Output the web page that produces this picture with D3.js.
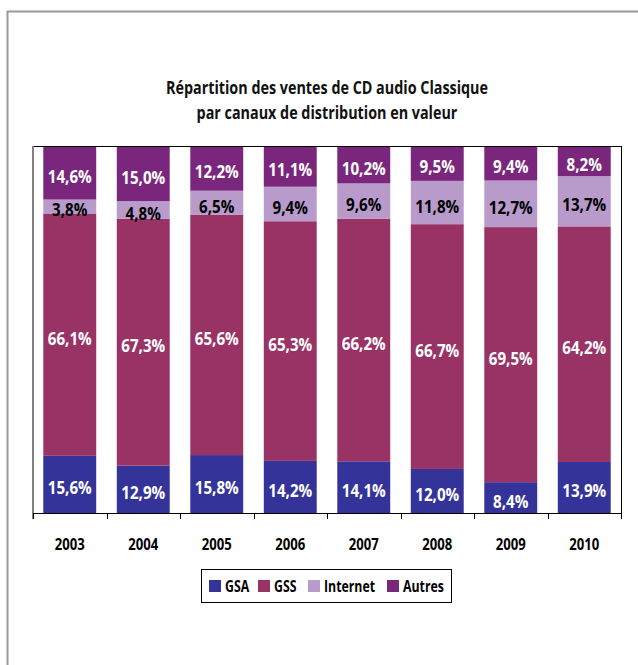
<!DOCTYPE html>
<html><head><meta charset="utf-8">
<script src="https://cdn.jsdelivr.net/npm/d3@7"></script>
<style>
html,body{margin:0;padding:0;background:#fff;}
text{font-family:"Open Sans","Noto Sans",sans-serif;font-weight:bold;}
</style></head>
<body><svg id="c" width="638" height="665"></svg>
<script>
const years = ["2003","2004","2005","2006","2007","2008","2009","2010"];
const gsa = [15.6,12.9,15.8,14.2,14.1,12.0,8.4,13.9];
const gss = [66.1,67.3,65.6,65.3,66.2,66.7,69.5,64.2];
const internet = [3.8,4.8,6.5,9.4,9.6,11.8,12.7,13.7];
const autres = [14.6,15.0,12.2,11.1,10.2,9.5,9.4,8.2];
const seriesNames = ["GSA","GSS","Internet","Autres"];
const seriesColors = ["#333399","#993366","#B89BCB","#7B267D"];
const labelColors = ["#fff","#fff","#000","#fff"];
const titleLines = ["Répartition des ventes de CD audio Classique","par canaux de distribution en valeur"];

const svg = d3.select("#c");
const L=33,R=621,T=146,B=513;

// condense text horizontally so a reference string gets a target width
function condense(sel, fontSize, refText, refWidth){
  const probe = svg.append("text").attr("font-size",fontSize).text(refText);
  const k = refWidth / probe.node().getComputedTextLength();
  probe.remove();
  sel.each(function(){
    const w = this.getComputedTextLength();
    d3.select(this).attr("textLength", w*k).attr("lengthAdjust","spacingAndGlyphs");
  });
}

const rows = years.map((y,i)=>({year:y,GSA:gsa[i],GSS:gss[i],Internet:internet[i],Autres:autres[i]}));
const stack = d3.stack().keys(seriesNames).offset(d3.stackOffsetExpand)(rows);

const x = d3.scaleBand().domain(years).range([L,R]).paddingInner(0.28).paddingOuter(0.14);
const y = d3.scaleLinear().domain([0,1]).range([B,T]);

// outer frame
svg.append("path").attr("d","M7.5,665 V11.5 H640").attr("fill","none").attr("stroke","#999").attr("stroke-width",2);

// title
const tt = svg.selectAll("text.title").data(titleLines).join("text").attr("class","title")
  .attr("x",327).attr("y",(d,i)=>94+i*25).attr("text-anchor","middle")
  .attr("font-size",18).attr("fill","#111").text(d=>d);
condense(tt, 18, titleLines[0], 322);

// bars
const g = svg.append("g");
stack.forEach((s,si)=>{
  g.selectAll(null).data(s).join("rect")
    .attr("x",d=>x(d.data.year)).attr("width",x.bandwidth())
    .attr("y",d=>y(d[1])).attr("height",d=>y(d[0])-y(d[1]))
    .attr("fill",seriesColors[si]);
});
stack.forEach((s,si)=>{
  const lt = g.selectAll(null).data(s).join("text")
    .attr("x",d=>x(d.data.year)+x.bandwidth()/2)
    .attr("y",d=>(y(d[0])+y(d[1]))/2+10)
    .attr("text-anchor","middle").attr("font-size",17)
    .attr("fill",labelColors[si])
    .text(d=>d.data[s.key].toFixed(1).replace(".",",")+"%");
  condense(lt, 17, "14,6%", 44);
});

// plot frame
svg.append("line").attr("x1",L).attr("x2",R).attr("y1",T+0.5).attr("y2",T+0.5).attr("stroke","#000");
svg.append("line").attr("x1",R+0.5).attr("x2",R+0.5).attr("y1",T).attr("y2",B+6).attr("stroke","#000");
svg.append("line").attr("x1",L).attr("x2",L).attr("y1",T).attr("y2",B+6).attr("stroke","#808080").attr("stroke-width",2);
svg.append("line").attr("x1",L).attr("x2",R).attr("y1",B+0.5).attr("y2",B+0.5).attr("stroke","#000");
const step = x.step();
const bounds = d3.range(years.length+1).map(i=>L+i*step);
svg.selectAll(null).data(bounds).join("line")
  .attr("x1",d=>Math.round(d)+0.5).attr("x2",d=>Math.round(d)+0.5).attr("y1",B).attr("y2",B+6).attr("stroke","#000");

// x labels
const yl = svg.selectAll(null).data(years).join("text")
  .attr("x",d=>x(d)+x.bandwidth()/2).attr("y",550).attr("text-anchor","middle")
  .attr("font-size",16).attr("fill","#000").text(d=>d);
condense(yl, 16, "2003", 30);

// legend
const leg = svg.append("g");
leg.append("rect").attr("x",201.5).attr("y",569.5).attr("width",250).attr("height",33).attr("fill","#fff").attr("stroke","#000");
const legX = [209,258,308,387];
seriesNames.forEach((n,i)=>{
  leg.append("rect").attr("x",legX[i]).attr("y",580).attr("width",12).attr("height",12).attr("fill",seriesColors[i]);
});
const lgt = leg.selectAll("text").data(seriesNames).join("text")
  .attr("x",(d,i)=>legX[i]+16).attr("y",592).attr("font-size",16).attr("fill","#000").text(d=>d);
condense(lgt, 16, "Internet", 51);
</script></body></html>
